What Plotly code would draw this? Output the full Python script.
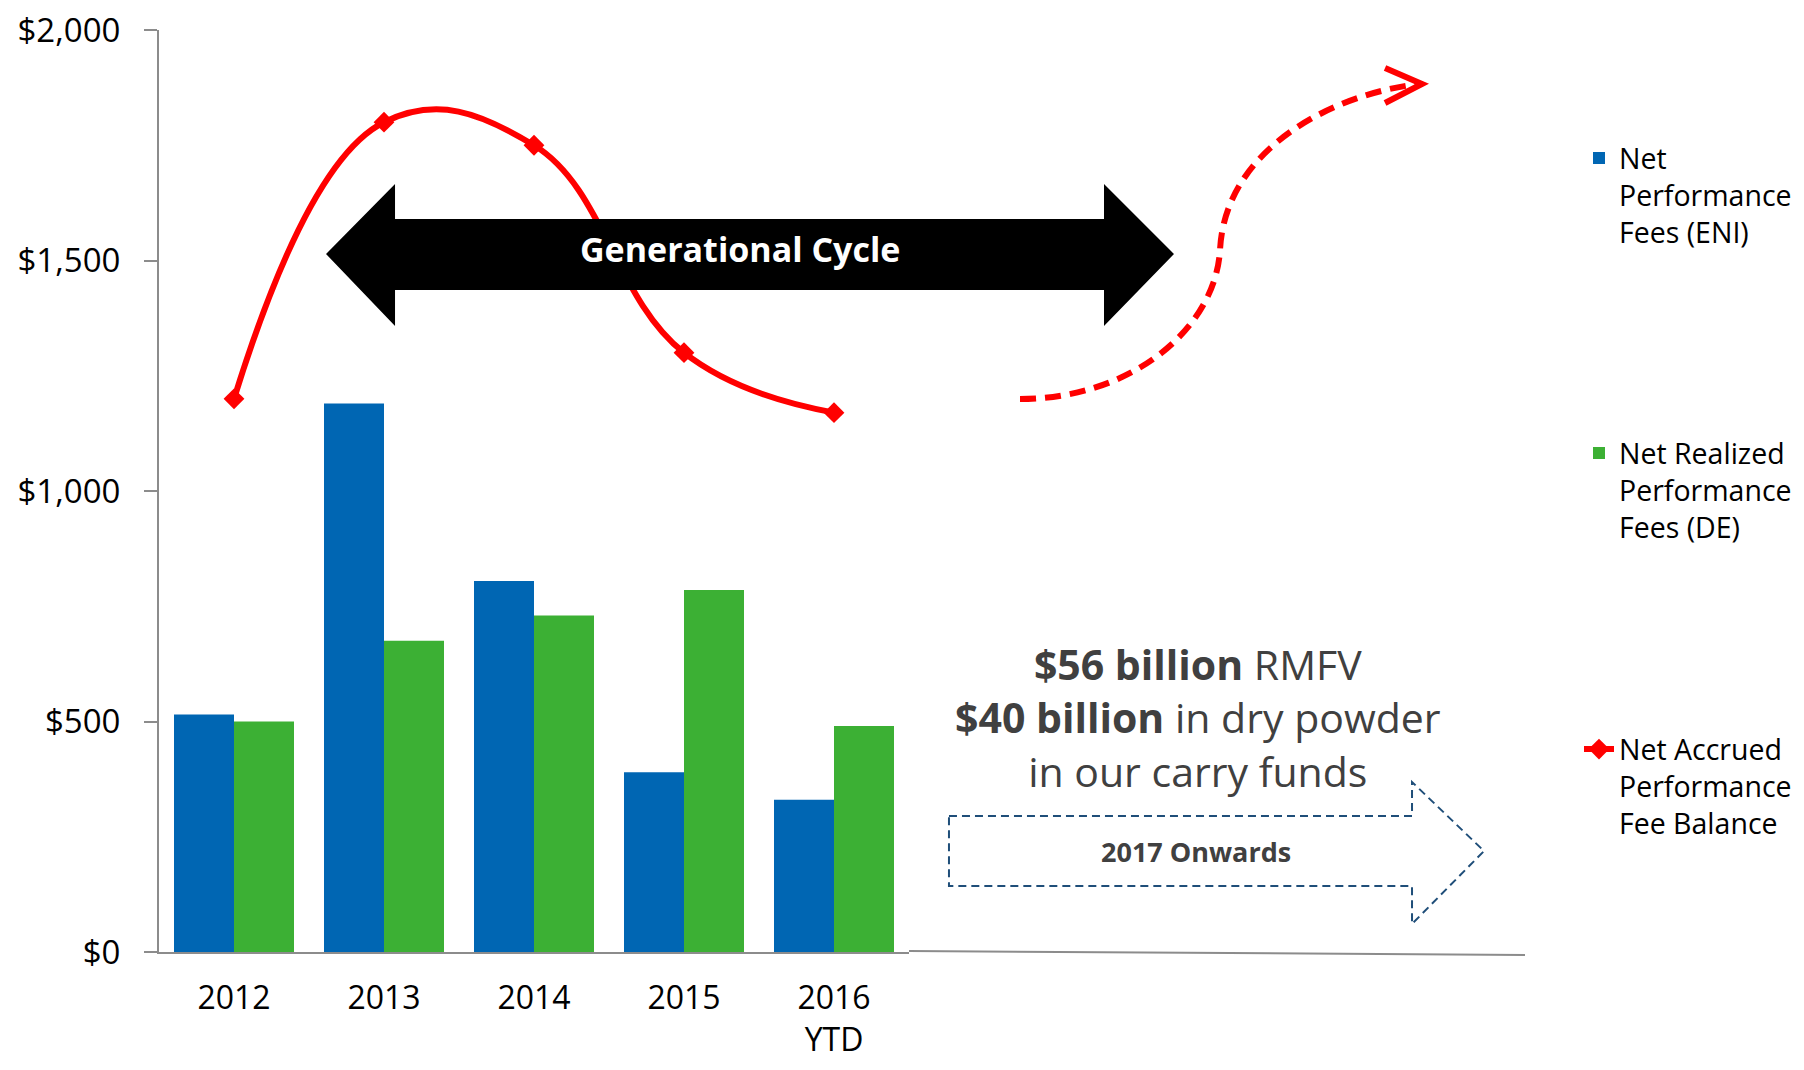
import plotly.graph_objects as go

# chart data
years = ['2012', '2013', '2014', '2015', '2016<br>YTD']
eni_fees = [515, 1190, 805, 390, 330]
de_fees = [500, 675, 730, 785, 490]
accrued_balance = [1200, 1800, 1750, 1300, 1170]

y_ticks = [0, 500, 1000, 1500, 2000]
y_labels = ['$0', '$500', '$1,000', '$1,500', '$2,000']

series_names = ['Net<br>Performance<br>Fees (ENI)',
                'Net Realized<br>Performance<br>Fees (DE)',
                'Net Accrued<br>Performance<br>Fee Balance']
colors = ['#0066b3', '#3cb034', '#ff0000']

font = 'Open Sans'
axis_grey = '#8c8c8c'
text_grey = '#404040'

# the page body has an 8px margin, so the figure starts at (8, 8) on screen
PAGE = 8
W, H = 1804 - 2 * PAGE, 1070 - 2 * PAGE
# plot area in screen pixels (left, right, top, bottom)
L, R, T, B = 159, 909, 30, 952


def px(x, y):
    # screen pixel -> paper coordinates, used for the drawn decorations
    return (x - L) / (R - L), (B - y) / (B - T)


def p(x, y):
    return '%.4f,%.4f' % px(x, y)


def poly(points):
    return 'M' + ' L'.join(p(x, y) for x, y in points) + ' Z'


traces = [
    go.Bar(x=years, y=eni_fees, name=series_names[0], marker=dict(color=colors[0], line=dict(width=0)),
           legend='legend'),
    go.Bar(x=years, y=de_fees, name=series_names[1], marker=dict(color=colors[1], line=dict(width=0)),
           legend='legend2'),
    go.Scatter(x=years, y=accrued_balance, name=series_names[2], mode='lines+markers',
               line=dict(color=colors[2], width=6, shape='spline', smoothing=1.2),
               marker=dict(symbol='diamond', size=16, color=colors[2]),
               legend='legend3'),
]

fig = go.Figure(data=traces)

shapes = []

# black "Generational Cycle" double arrow
shapes.append(dict(
    type='path', xref='paper', yref='paper', layer='above',
    path=poly([(326, 254), (395, 184), (395, 219), (1104, 219), (1104, 184), (1174, 254),
               (1104, 326), (1104, 290), (395, 290), (395, 326)]),
    fillcolor='black', line=dict(width=0)))

# dashed red "future" curve and its open arrow head
shapes.append(dict(
    type='path', xref='paper', yref='paper',
    path='M%s C%s %s %s C%s %s %s' % (p(1020, 399), p(1130, 399), p(1215, 330), p(1220, 250),
                                      p(1225, 150), p(1330, 95), p(1418, 84)),
    line=dict(color='#ff0000', width=6, dash='16px,9px')))
shapes.append(dict(
    type='path', xref='paper', yref='paper',
    path='M%s L%s L%s' % (p(1385, 68), p(1422, 84), p(1385, 103)),
    line=dict(color='#ff0000', width=6)))

# dashed blue "2017 Onwards" block arrow
shapes.append(dict(
    type='path', xref='paper', yref='paper',
    path=poly([(949, 816), (1412, 816), (1412, 782), (1484, 851), (1412, 924), (1412, 886), (949, 886)]),
    line=dict(color='#1f4e79', width=2, dash='8px,5px')))

# baseline continuing to the right of the axis
x0, y0 = px(909, 951)
x1, y1 = px(1525, 955)
shapes.append(dict(type='line', xref='paper', yref='paper', x0=x0, y0=y0, x1=x1, y1=y1,
                   line=dict(color=axis_grey, width=2)))

annotations = []
ax, ay = px(740, 249)
annotations.append(dict(x=ax, y=ay, xref='paper', yref='paper', showarrow=False,
                        xanchor='center', yanchor='middle',
                        text='<b>Generational Cycle</b>',
                        font=dict(family=font, size=34, color='white')))
ax, ay = px(1198, 717)
annotations.append(dict(x=ax, y=ay, xref='paper', yref='paper', showarrow=False,
                        xanchor='center', yanchor='middle',
                        text='<b>$56 billion</b> RMFV<br><b>$40 billion</b> in dry powder<br>in our carry funds',
                        font=dict(family=font, size=41, color=text_grey)))
ax, ay = px(1196, 851)
annotations.append(dict(x=ax, y=ay, xref='paper', yref='paper', showarrow=False,
                        xanchor='center', yanchor='middle',
                        text='<b>2017 Onwards</b>',
                        font=dict(family=font, size=27, color=text_grey)))

legend_style = dict(xanchor='left', yanchor='top', valign='top', bgcolor='rgba(0,0,0,0)',
                    font=dict(family=font, size=28.5, color='black'))
lx, _ = px(1579, 0)
_, ly1 = px(0, 133)
_, ly2 = px(0, 428)
_, ly3 = px(0, 724)

fig.update_layout(
    width=W, height=H,
    margin=dict(l=L - PAGE, r=W + PAGE - R, t=T - PAGE, b=H + PAGE - B, autoexpand=False),
    plot_bgcolor='white', paper_bgcolor='white',
    barmode='group', bargap=0.2, bargroupgap=0,
    font=dict(family=font, color='black'),
    showlegend=True,
    shapes=shapes,
    annotations=annotations,
    legend=dict(x=lx, y=ly1, **legend_style),
    legend2=dict(x=lx, y=ly2, **legend_style),
    legend3=dict(x=lx, y=ly3, **legend_style),
    xaxis=dict(
        showline=True, linecolor=axis_grey, linewidth=2,
        ticks='', showgrid=False, ticklabelstandoff=17,
        ticklabeloverflow='allow',
        tickfont=dict(family=font, size=32, color='black'),
    ),
    yaxis=dict(
        range=[0, 2000], tickvals=y_ticks, ticktext=y_labels,
        showline=True, linecolor=axis_grey, linewidth=2,
        ticks='outside', ticklen=13, tickwidth=2, tickcolor=axis_grey,
        showgrid=False, zeroline=False, ticklabelstandoff=17,
        ticklabeloverflow='allow',
        tickfont=dict(family=font, size=33, color='black'),
    ),
)

fig.write_html('out.html')
